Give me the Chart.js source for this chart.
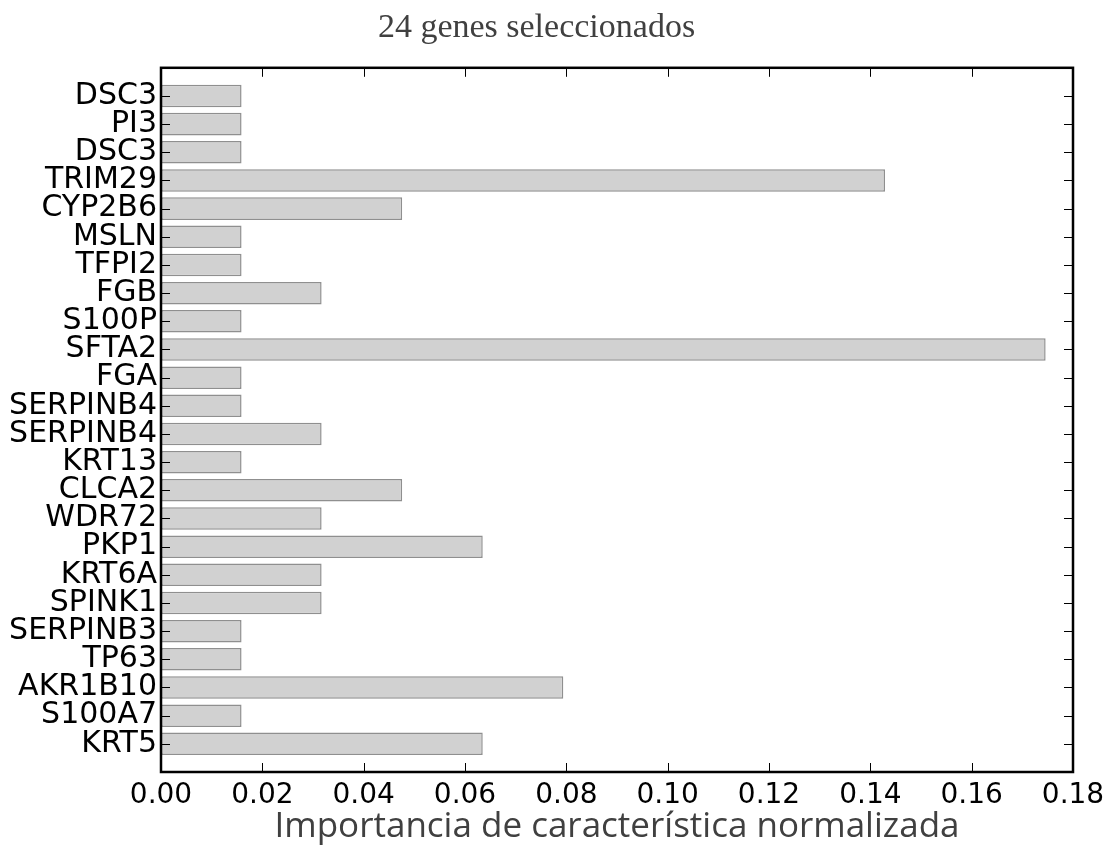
<!DOCTYPE html>
<html>
<head>
<meta charset="utf-8">
<script src="https://cdn.jsdelivr.net/npm/chart.js@4.4.0/dist/chart.umd.min.js"></script>
<style>
  html, body { margin: 0; padding: 0; background: #fff; }
  #wrap { width: 1108px; height: 848px; }
</style>
</head>
<body>
<div id="wrap"><canvas id="chart"></canvas></div>
<script>
// genes from bottom (0) to top (23)
const genes = ["KRT5", "S100A7", "AKR1B10", "TP63", "SERPINB3", "SPINK1", "KRT6A", "PKP1",
  "WDR72", "CLCA2", "KRT13", "SERPINB4", "SERPINB4", "FGA", "SFTA2", "S100P",
  "FGB", "TFPI2", "MSLN", "CYP2B6", "TRIM29", "DSC3", "PI3", "DSC3"]
const importance = [0.0635, 0.0159, 0.0794, 0.0159, 0.0159, 0.0317, 0.0317, 0.0635,
  0.0317, 0.0476, 0.0159, 0.0317, 0.0159, 0.0159, 0.1746, 0.0159,
  0.0317, 0.0159, 0.0159, 0.0476, 0.1429, 0.0159, 0.0159, 0.0159]
const xTicks = [0, 0.02, 0.04, 0.06, 0.08, 0.10, 0.12, 0.14, 0.16, 0.18]

const titleText = "24 genes seleccionados"
const xTitle = "Importancia de característica normalizada"

// matplotlib style frame with inward ticks on all four sides
const frame = {
  id: "frame",
  afterDatasetsDraw(chart){
    const { ctx, chartArea: a, scales } = chart
    ctx.save()
    ctx.strokeStyle = "#000"
    ctx.lineWidth = 1
    ctx.beginPath()
    xTicks.forEach(v => {
      const px = Math.round(scales.x.getPixelForValue(v)) + 0.5
      ctx.moveTo(px, a.bottom); ctx.lineTo(px, a.bottom - 9)
      ctx.moveTo(px, a.top); ctx.lineTo(px, a.top + 9)
    })
    genes.forEach((g, i) => {
      const py = Math.round(scales.y.getPixelForValue(i)) + 0.5
      ctx.moveTo(a.left, py); ctx.lineTo(a.left + 9, py)
      ctx.moveTo(a.right, py); ctx.lineTo(a.right - 9, py)
    })
    ctx.stroke()
    ctx.lineWidth = 2.5
    ctx.strokeRect(a.left, a.top, a.right - a.left, a.bottom - a.top)
    ctx.restore()
  }
}

new Chart(document.getElementById("chart"), {
  type: "bar",
  data: {
    datasets: [{
      data: importance.map((v, i) => ({ x: v, y: i })),
      backgroundColor: "#d1d1d1",
      borderColor: "#8f8f8f",
      borderWidth: 1.5,
      borderSkipped: false,
      barPercentage: 0.8,
      categoryPercentage: 1.0,
    }]
  },
  options: {
    indexAxis: "y",
    responsive: true,
    maintainAspectRatio: false,
    animation: false,
    layout: { padding: { left: 0, right: 35, top: 0, bottom: 0 } },
    plugins: {
      legend: { display: false },
      tooltip: { enabled: false },
      title: {
        display: true,
        text: titleText,
        color: "#404040",
        font: { family: "Liberation Serif", size: 34, weight: "normal" },
        padding: { top: 8, bottom: 19 },
      },
    },
    scales: {
      x: {
        type: "linear",
        min: 0,
        max: 0.18,
        afterBuildTicks: (s) => { s.ticks = xTicks.map(v => ({ value: v })) },
        afterFit: (s) => { s.height = 76; s.paddingRight = 0; s.paddingLeft = 0 },
        grid: { display: false, drawTicks: false },
        border: { display: false },
        ticks: {
          color: "#000",
          padding: 7,
          maxRotation: 0,
          font: { family: "DejaVu Sans", size: 28 },
          callback: (v) => Number(v).toFixed(2),
        },
        title: {
          display: true,
          text: xTitle,
          color: "#404040",
          padding: { top: 0, bottom: 0 },
          font: { family: "Open Sans", size: 35 },
        },
      },
      y: {
        type: "linear",
        min: -1,
        max: 24,
        offset: false,
        afterBuildTicks: (s) => { s.ticks = genes.map((g, i) => ({ value: i })) },
        afterFit: (s) => { s.width = 161 },
        grid: { display: false, drawTicks: false },
        border: { display: false },
        ticks: {
          color: "#000",
          padding: 4,
          autoSkip: false,
          font: { family: "DejaVu Sans", size: 30 },
          callback: (v) => genes[v],
        },
      },
    },
  },
  plugins: [frame],
})
</script>
</body>
</html>
